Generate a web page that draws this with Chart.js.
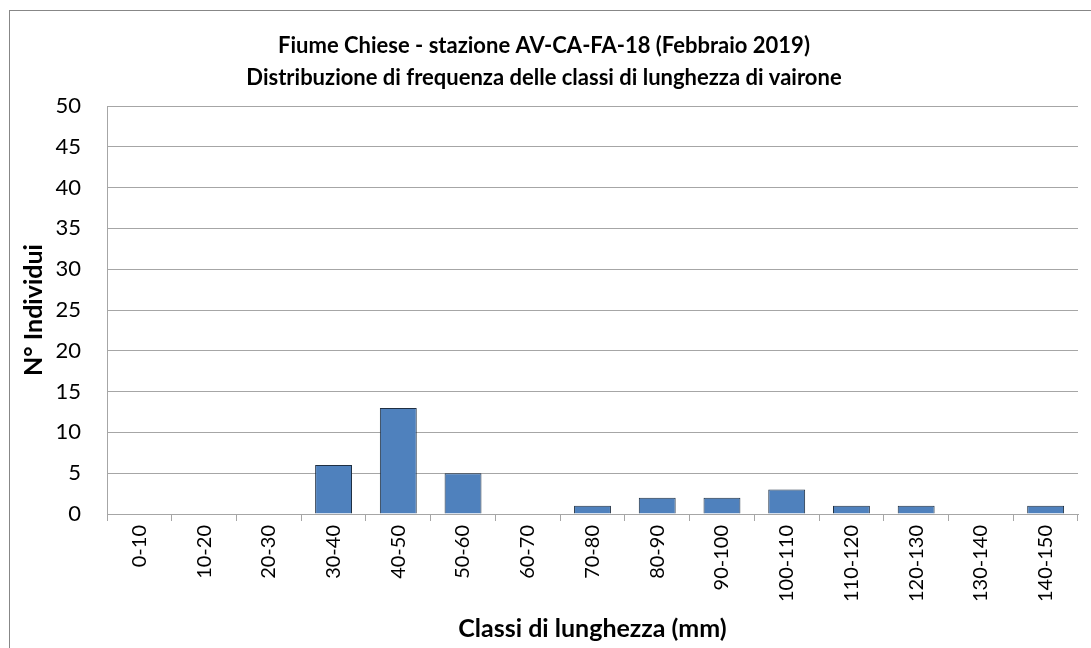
<!DOCTYPE html>
<html>
<head>
<meta charset="utf-8">
<script src="https://cdn.jsdelivr.net/npm/chart.js@4/dist/chart.umd.min.js"></script>
<style>
  html, body { margin: 0; padding: 0; background: #fff; overflow: hidden; }
  #frame {
    position: absolute; left: 9px; top: 10px;
    width: 1090px; height: 646px;
    border: 1px solid #878787; box-sizing: border-box; background: #fff;
  }
  #wrap { position: absolute; left: 0; top: 0; width: 1082px; height: 638px; }
</style>
</head>
<body>
<div id="frame"><div id="wrap"><canvas id="chart"></canvas></div></div>
<script>
// Classi di lunghezza e numero di individui per classe
const CLASSES = ["0-10","10-20","20-30","30-40","40-50","50-60","60-70","70-80",
  "80-90","90-100","100-110","110-120","120-130","130-140","140-150"];
const COUNTS = [0, 0, 0, 6, 13, 5, 0, 1, 2, 2, 3, 1, 1, 0, 1];
const Y_MAX = 50, Y_STEP = 5;

const FONT = "Lato, 'Open Sans', sans-serif";
const GRID = "#a6a6a6";

new Chart(document.getElementById("chart"), {
  type: "bar",
  data: {
    labels: CLASSES,
    datasets: [{
      data: COUNTS,
      backgroundColor: "#4f81bd",
      borderColor: "#1f2f42",
      borderWidth: 1,
      barPercentage: 0.57,
      categoryPercentage: 1,
    }],
  },
  options: {
    responsive: true, maintainAspectRatio: false, animation: false,
    layout: { padding: { left: 0, right: 14, top: 0, bottom: 0 } },
    plugins: {
      legend: { display: false },
      tooltip: { enabled: false },
      title: {
        display: true,
        text: ["Fiume Chiese - stazione AV-CA-FA-18 (Febbraio 2019)",
               "Distribuzione di frequenza delle classi di lunghezza di vairone"],
        color: "#000",
        font: { family: FONT, size: 22, weight: "bold", lineHeight: 32 / 22 },
        padding: { top: 19, bottom: 12 },
      },
    },
    scales: {
      x: {
        grid: { offset: true, drawOnChartArea: false, color: GRID, tickLength: 7, tickColor: GRID },
        border: { color: GRID },
        ticks: { color: "#000", font: { family: FONT, size: 20 }, minRotation: 90, maxRotation: 90, autoSkip: false, padding: 4 },
        title: {
          display: true, text: "Classi di lunghezza (mm)", color: "#000",
          font: { family: FONT, size: 25, weight: "bold" }, padding: { top: 0, bottom: 5 },
        },
        afterFit: s => { s.height = 135; },
      },
      y: {
        min: 0, max: Y_MAX,
        grid: { color: GRID, drawTicks: false },
        border: { color: GRID },
        ticks: { stepSize: Y_STEP, color: "#000", font: { family: FONT, size: 22 }, padding: 26 },
        title: {
          display: true, text: "N° Individui", color: "#000",
          font: { family: FONT, size: 25, weight: "bold" }, padding: { top: 9, bottom: 0 },
        },
        afterFit: s => { s.width = 97; },
      },
    },
  },
});
</script>
</body>
</html>
